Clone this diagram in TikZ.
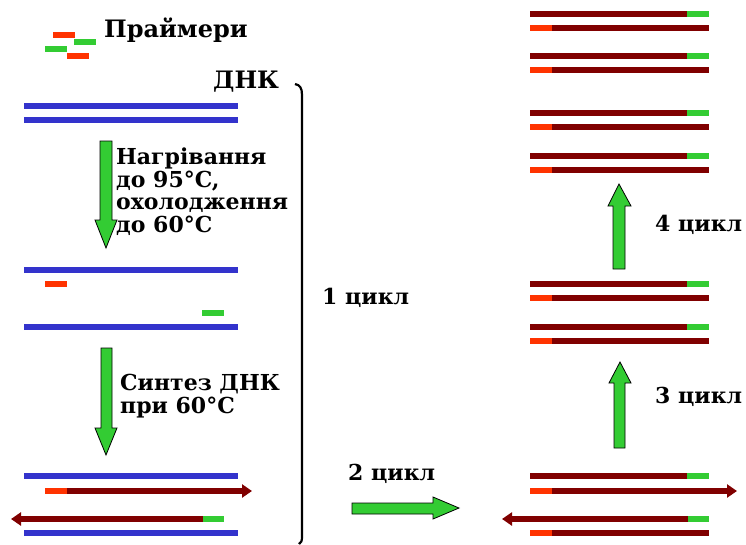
\documentclass[tikz,border=0pt]{standalone}
\usepackage{fontspec}
\setmainfont{DejaVu Serif}
\usetikzlibrary{arrows.meta}
\definecolor{dnablue}{HTML}{3333CC}
\definecolor{newred}{HTML}{800000}
\definecolor{primred}{HTML}{FF3300}
\definecolor{primgreen}{HTML}{33CC33}
\tikzset{
	strand/.style = {line width = 6},
	label/.style = {inner sep = 0, anchor = base west, font = \bfseries\fontsize{22}{22.5}\selectfont, align = left},
	bigarrow/.style = {fill = primgreen, draw = black, line width = 0.8, line join = miter},
	tip/.style = {-{Triangle[length = 10, width = 13]}}
}
\begin{document}
\begin{tikzpicture}[x = 1pt, y = -1pt]
		\useasboundingbox (0,0) rectangle (746,544);
		% primers
		\draw [strand, primred] (53,35) -- (75,35);
		\draw [strand, primgreen] (74,42) -- (96,42);
		\draw [strand, primgreen] (45,49) -- (67,49);
		\draw [strand, primred] (67,56) -- (89,56);
		\node [label, font = \bfseries\fontsize{24}{25}\selectfont] (primers) at (104,37) {Праймери};
		\node [label, font = \bfseries\fontsize{24}{25}\selectfont] (dna) at (213,88) {ДНК};
		% start DNA
		\draw [strand, dnablue] (24,106) -- (238,106);
		\draw [strand, dnablue] (24,120) -- (238,120);
		\draw [bigarrow] (100,141) -- (112,141) -- (112,220) -- (117,220) -- (106,248) -- (95,220) -- (100,220) -- cycle;
		% base of a multi-line node is its last line
		\node [label] (heat) at (116,232) {Нагрівання\\до 95°C,\\охолодження\\до 60°C};
		% annealing
		\draw [strand, dnablue] (24,270) -- (238,270);
		\draw [strand, primred] (45,284) -- (67,284);
		\draw [strand, primgreen] (202,313) -- (224,313);
		\draw [strand, dnablue] (24,327) -- (238,327);
		\draw [bigarrow] (101,348) -- (112,348) -- (112,428) -- (117,428) -- (106,455) -- (95,428) -- (101,428) -- cycle;
		\node [label] (synth) at (120,413) {Синтез ДНК\\при 60°C};
		% extension
		\draw [strand, dnablue] (24,476) -- (238,476);
		\draw [strand, newred, tip] (67,491) -- (252,491);
		\draw [strand, primred] (45,491) -- (67,491);
		\draw [strand, newred, tip] (203,519) -- (11,519);
		\draw [strand, primgreen] (203,519) -- (224,519);
		\draw [strand, dnablue] (24,533) -- (238,533);
		% bracket
		\draw [line width = 2.2] (295,84) .. controls (300,85) and (302,88) .. (302,95) -- (302,537) .. controls (302,541) and (301,543) .. (299,544);
		\node [label] (c1) at (322,304) {1 цикл};
		\node [label] (c2) at (348,480) {2 цикл};
		\draw [bigarrow] (352,503) -- (433,503) -- (433,497) -- (459,508) -- (433,519) -- (433,514) -- (352,514) -- cycle;
		% second cycle
		\draw [strand, newred] (530,476) -- (687,476);
		\draw [strand, primgreen] (687,476) -- (709,476);
		\draw [strand, newred, tip] (552,491) -- (737,491);
		\draw [strand, primred] (530,491) -- (552,491);
		\draw [strand, newred, tip] (688,519) -- (502,519);
		\draw [strand, primgreen] (688,519) -- (709,519);
		\draw [strand, primred] (530,533) -- (552,533);
		\draw [strand, newred] (552,533) -- (709,533);
		% later cycles
		\foreach \y in {14,56,113,156,284,327} {
			\draw [strand, newred] (530,\y) -- (687,\y);
			\draw [strand, primgreen] (687,\y) -- (709,\y);
			\draw [strand, primred] (530,\y+14) -- (552,\y+14);
			\draw [strand, newred] (552,\y+14) -- (709,\y+14);
		}
		\draw [bigarrow] (614,448) -- (614,383) -- (609,383) -- (620,362) -- (631,383) -- (625,383) -- (625,448) -- cycle;
		\node [label] (c3) at (655,403) {3 цикл};
		\draw [bigarrow] (613,269) -- (613,206) -- (608,206) -- (619,184) -- (631,206) -- (625,206) -- (625,269) -- cycle;
		\node [label] (c4) at (655,231) {4 цикл};
	\end{tikzpicture}
\end{document}
